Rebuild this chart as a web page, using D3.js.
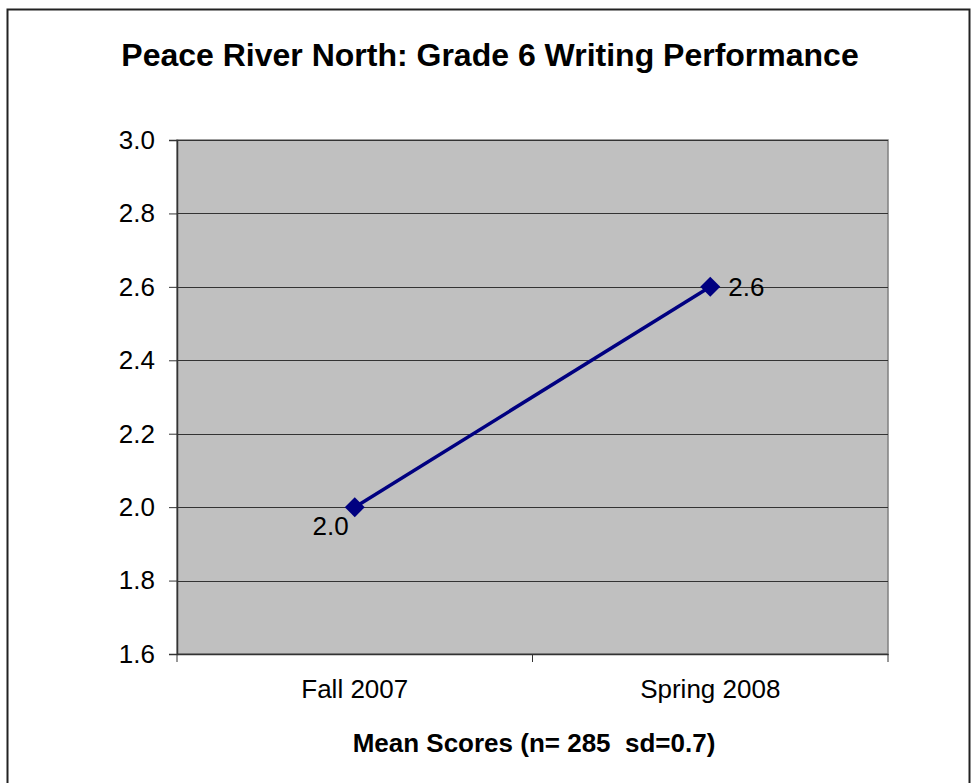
<!DOCTYPE html>
<html>
<head>
<meta charset="utf-8">
<script src="https://cdn.jsdelivr.net/npm/d3@7"></script>
<style>
  body { margin: 0; background: #fff; }
  svg { display: block; font-family: "Liberation Sans", Arial, sans-serif; }
</style>
</head>
<body>
<svg id="chart" width="972" height="783"></svg>
<script>
// chart data
var categories = ["Fall 2007", "Spring 2008"];
var meanScores = [2.0, 2.6];
var yTicks = [1.6, 1.8, 2.0, 2.2, 2.4, 2.6, 2.8, 3.0];

var svg = d3.select("#chart");
var plot = { left: 177, top: 140, right: 888, bottom: 654 };

// outer chart border
svg.append("rect")
    .attr("x", 7.5).attr("y", 9.5)
    .attr("width", 962).attr("height", 790)
    .attr("fill", "#fff").attr("stroke", "#222").attr("stroke-width", 2);

var x = d3.scaleBand().domain(categories).range([plot.left, plot.right]);
var y = d3.scaleLinear().domain([1.6, 3.0]).range([plot.bottom, plot.top]);

// plot area background
svg.append("rect")
    .attr("x", plot.left).attr("y", plot.top)
    .attr("width", plot.right - plot.left).attr("height", plot.bottom - plot.top)
    .attr("fill", "#c0c0c0")
    .attr("stroke", "#808080").attr("stroke-width", 1.5);

// gridlines
svg.append("g").selectAll("line")
    .data(yTicks.slice(1))
    .enter().append("line")
    .attr("x1", plot.left).attr("x2", plot.right)
    .attr("y1", function (d) { return Math.round(y(d)) + 0.5; })
    .attr("y2", function (d) { return Math.round(y(d)) + 0.5; })
    .attr("stroke", "#333").attr("stroke-width", 1);

// y axis
var yAxis = svg.append("g")
    .attr("transform", "translate(" + plot.left + ",0)")
    .call(d3.axisLeft(y).tickValues(yTicks).tickFormat(d3.format(".1f")).tickSize(8).tickPadding(14));
yAxis.attr("font-size", 26).attr("font-family", "'Liberation Sans', Arial, sans-serif");
yAxis.select(".domain").attr("stroke", "#333").attr("stroke-width", 1.5);
yAxis.selectAll(".tick line").attr("stroke", "#333");
yAxis.selectAll("text").attr("fill", "#000");

// x axis
var xAxis = svg.append("g")
    .attr("transform", "translate(0," + plot.bottom + ")")
    .call(d3.axisBottom(x).tickSize(0).tickPadding(26));
xAxis.attr("font-size", 26).attr("font-family", "'Liberation Sans', Arial, sans-serif");
xAxis.select(".domain").attr("stroke", "#333").attr("stroke-width", 1.5);
xAxis.selectAll("text").attr("fill", "#000");

// x tick marks sit between the categories
var xTickPos = [plot.left, plot.left + x.bandwidth(), plot.right];
svg.append("g").selectAll("line")
    .data(xTickPos)
    .enter().append("line")
    .attr("x1", function (d) { return d; }).attr("x2", function (d) { return d; })
    .attr("y1", plot.bottom).attr("y2", plot.bottom + 8)
    .attr("stroke", "#333").attr("stroke-width", 1);

var cx = function (d, i) { return x(categories[i]) + x.bandwidth() / 2; };

// series line
svg.append("path")
    .datum(meanScores)
    .attr("d", d3.line().x(cx).y(function (d) { return y(d); }))
    .attr("fill", "none").attr("stroke", "#000080").attr("stroke-width", 3.5);

// diamond markers
svg.append("g").selectAll("path")
    .data(meanScores)
    .enter().append("path")
    .attr("transform", function (d, i) { return "translate(" + cx(d, i) + "," + y(d) + ")"; })
    .attr("d", "M0,-10L10,0L0,10L-10,0Z")
    .attr("fill", "#000080");

// data labels
svg.append("g").selectAll("text")
    .data(meanScores)
    .enter().append("text")
    .attr("x", function (d, i) { return i === 0 ? cx(d, i) - 6 : cx(d, i) + 18; })
    .attr("y", function (d, i) { return i === 0 ? y(d) + 28 : y(d) + 9; })
    .attr("text-anchor", function (d, i) { return i === 0 ? "end" : "start"; })
    .attr("font-size", 26)
    .text(function (d) { return d3.format(".1f")(d); });

// titles
svg.append("text")
    .attr("x", 490).attr("y", 66)
    .attr("text-anchor", "middle")
    .attr("font-size", 32).attr("font-weight", "bold")
    .text("Peace River North: Grade 6 Writing Performance");

svg.append("text")
    .attr("x", 534).attr("y", 752)
    .attr("text-anchor", "middle")
    .attr("font-size", 26).attr("font-weight", "bold")
    .style("white-space", "pre")
    .text("Mean Scores (n= 285  sd=0.7)");
</script>
</body>
</html>
